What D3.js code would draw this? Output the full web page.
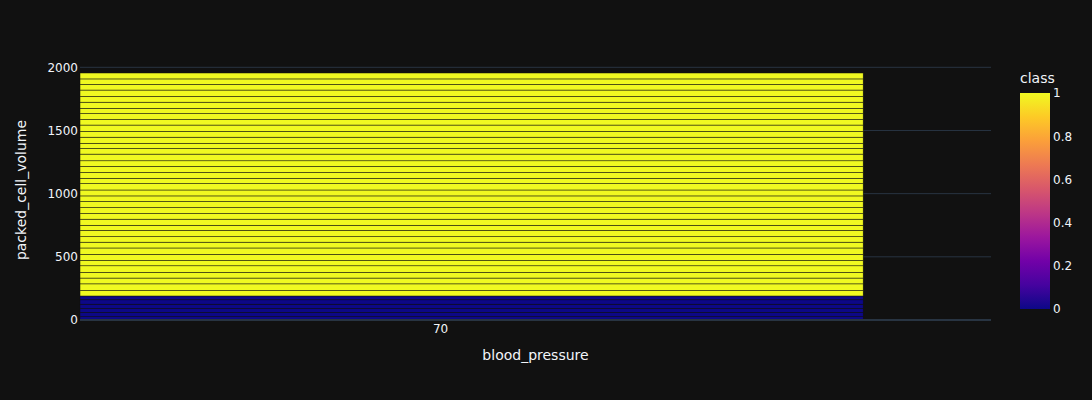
<!DOCTYPE html>
<html>
<head>
<meta charset="utf-8">
<script src="https://cdn.jsdelivr.net/npm/d3@7"></script>
<style>
  html, body { margin: 0; padding: 0; background: #111111; }
  svg { display: block; }
  text { font-family: "DejaVu Sans", verdana, arial, sans-serif; fill: #f2f5fa; }
</style>
</head>
<body>
<script>
// ---- data ----
const bloodPressure = [70];
// class 0 segments (bottom of stack), packed_cell_volume per row
const class0Values = [26, 34, 31, 34, 35, 30];
// class 1 segments (stacked on top)
const class1Values = [44, 52, 46, 45, 52, 43, 48, 50, 46, 44, 50, 40, 48, 45, 47, 48, 44, 47, 51, 42,
                      46, 48, 44, 53, 45, 41, 48, 46, 50, 44, 47, 42, 48, 46, 50, 45, 43, 47];
const yTicks = [0, 500, 1000, 1500, 2000];
const colorbarTicks = [0, 0.2, 0.4, 0.6, 0.8, 1];
const plasma = ["#0d0887", "#46039f", "#7201a8", "#9c179e", "#bd3786", "#d8576b", "#ed7953", "#fb9f3a", "#fdca26", "#f0f921"];

// ---- layout ----
const FONT = '"DejaVu Sans", verdana, arial, sans-serif';
const W = 1092, H = 400;
const m = { l: 80, r: 101, t: 60, b: 80 };
const pw = W - m.l - m.r, ph = H - m.t - m.b;

const rows = [];
class0Values.forEach(v => rows.push({ x: bloodPressure[0], y: v, c: 0 }));
class1Values.forEach(v => rows.push({ x: bloodPressure[0], y: v, c: 1 }));
let acc = 0;
rows.forEach(r => { r.y0 = acc; acc += r.y; r.y1 = acc; });
const total = acc;

const x = d3.scaleLinear().domain([69.5, 70.765]).range([m.l, m.l + pw]);
const barLeft = 69.5, barRight = 70.5875;
const y = d3.scaleLinear().domain([0, total * 1.0526]).range([m.t + ph, m.t]);
const color = d3.scaleLinear().domain(plasma.map((_, i) => i / (plasma.length - 1))).range(plasma);

const svg = d3.select("body").append("svg").attr("width", W).attr("height", H);
svg.append("rect").attr("width", W).attr("height", H).attr("fill", "#111111");

// grid
svg.append("g").selectAll("line").data(yTicks.filter(t => t !== 0)).join("line")
  .attr("x1", m.l).attr("x2", m.l + pw)
  .attr("y1", d => y(d)).attr("y2", d => y(d))
  .attr("stroke", "#283442").attr("stroke-width", 1);

// bars
svg.append("g").selectAll("rect").data(rows).join("rect")
  .attr("x", x(barLeft))
  .attr("width", x(barRight) - x(barLeft))
  .attr("y", d => y(d.y1))
  .attr("height", d => y(d.y0) - y(d.y1))
  .attr("fill", d => color(d.c))
  .attr("stroke", "#111111")
  .attr("stroke-width", 0.5);

// zero line
svg.append("line").attr("x1", m.l).attr("x2", m.l + pw)
  .attr("y1", y(0)).attr("y2", y(0))
  .attr("stroke", "#283442").attr("stroke-width", 2);

// y axis labels
const yAxis = d3.axisLeft(y).tickValues(yTicks).tickSize(0).tickPadding(2).tickFormat(d3.format("d"));
const gy = svg.append("g").attr("transform", `translate(${m.l},0)`).call(yAxis);
gy.select(".domain").remove();
gy.selectAll("text").attr("font-size", 12).style("fill", "#f2f5fa").attr("font-family", FONT);

// x axis labels
const xAxis = d3.axisBottom(x).tickValues(bloodPressure).tickSize(0).tickPadding(4).tickFormat(d3.format("d"));
const gx = svg.append("g").attr("transform", `translate(0,${m.t + ph})`).call(xAxis);
gx.select(".domain").remove();
gx.selectAll("text").attr("font-size", 12).style("fill", "#f2f5fa").attr("font-family", FONT);

// axis titles
svg.append("text").attr("x", m.l + pw / 2).attr("y", 360).attr("text-anchor", "middle")
  .attr("font-size", 14).text("blood_pressure");
svg.append("text").attr("transform", `translate(26,${m.t + ph / 2}) rotate(-90)`)
  .attr("text-anchor", "middle").attr("font-size", 14).text("packed_cell_volume");

// colorbar
const defs = svg.append("defs");
const grad = defs.append("linearGradient").attr("id", "cb").attr("x1", 0).attr("y1", 1).attr("x2", 0).attr("y2", 0);
plasma.forEach((c, i) => grad.append("stop").attr("offset", i / (plasma.length - 1)).attr("stop-color", c));
const cbTop = 93, cbBot = 309, cbX = 1020, cbW = 30;
const cy = d3.scaleLinear().domain([0, 1]).range([cbBot, cbTop]);
svg.append("rect").attr("x", cbX).attr("y", cbTop).attr("width", cbW).attr("height", cbBot - cbTop).attr("fill", "url(#cb)");
const cbAxis = d3.axisRight(cy).tickValues(colorbarTicks).tickSize(0).tickPadding(3).tickFormat(d => d3.format("")(d));
const gcb = svg.append("g").attr("transform", `translate(${cbX + cbW},0)`).call(cbAxis);
gcb.select(".domain").remove();
gcb.selectAll("text").attr("font-size", 12).style("fill", "#f2f5fa").attr("font-family", FONT);
svg.append("text").attr("x", cbX).attr("y", 83).attr("font-size", 14).text("class");
</script>
</body>
</html>
